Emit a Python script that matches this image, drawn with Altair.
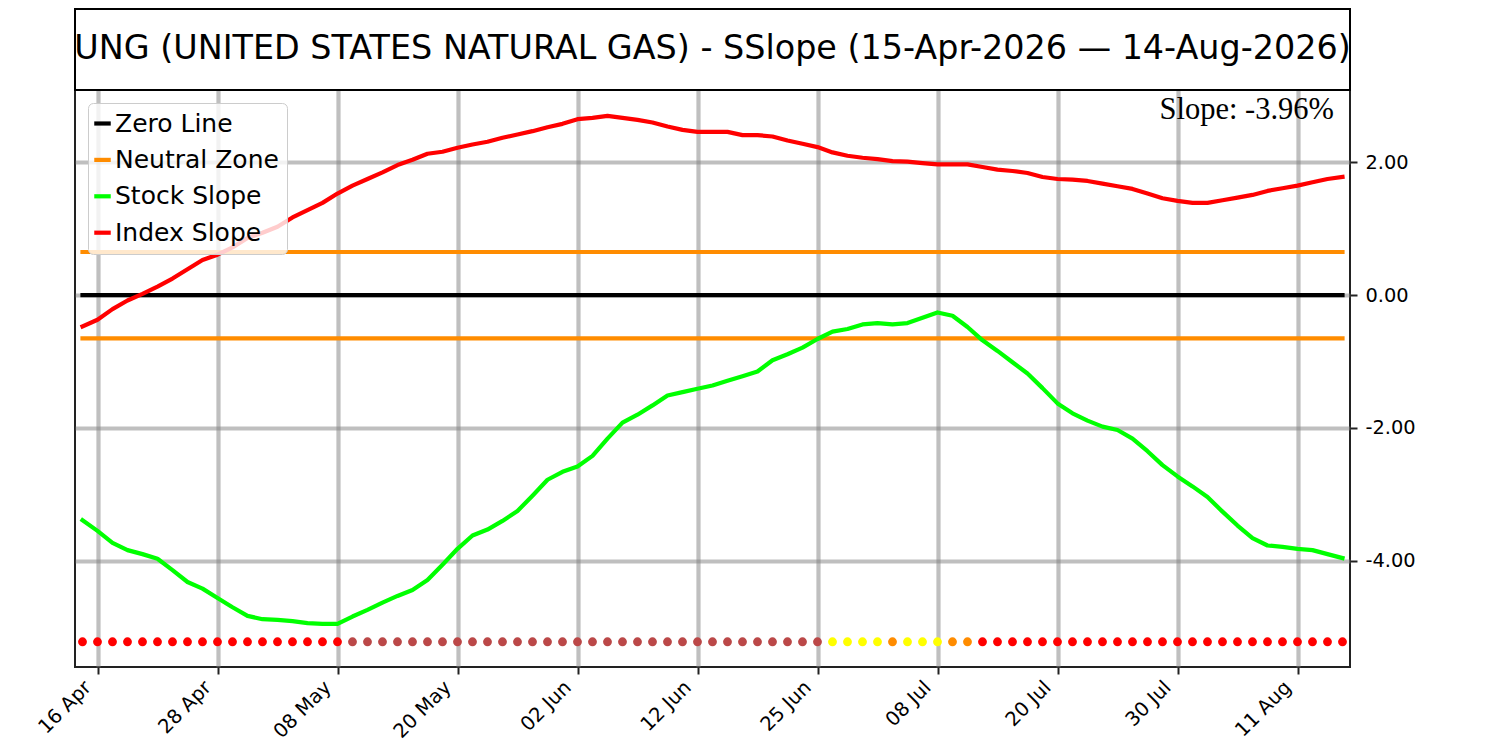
import altair as alt
import pandas as pd

# ---------------- data ----------------
title_text = "UNG (UNITED STATES NATURAL GAS) - SSlope (15-Apr-2026 \u2014 14-Aug-2026)"

tick_labels = ["16 Apr", "28 Apr", "08 May", "20 May", "02 Jun", "12 Jun",
               "25 Jun", "08 Jul", "20 Jul", "30 Jul", "11 Aug"]
tick_index = [1, 9, 17, 25, 33, 41, 49, 57, 65, 73, 81]
y_ticks = [-4, -2, 0, 2]

index_slope = [
    -0.47, -0.37, -0.21, -0.08, 0.02, 0.13, 0.25, 0.39, 0.53, 0.61,
    0.72, 0.86, 0.94, 1.03, 1.17, 1.28, 1.39, 1.53, 1.65, 1.75,
    1.85, 1.96, 2.04, 2.13, 2.16, 2.22, 2.27, 2.31, 2.37, 2.42,
    2.47, 2.53, 2.58, 2.65, 2.67, 2.70, 2.67, 2.64, 2.60, 2.54,
    2.49, 2.46, 2.46, 2.46, 2.41, 2.41, 2.39, 2.33, 2.28, 2.23,
    2.15, 2.10, 2.07, 2.05, 2.02, 2.01, 1.99, 1.97, 1.97, 1.97,
    1.93, 1.89, 1.87, 1.84, 1.78, 1.75, 1.74, 1.72, 1.68, 1.64,
    1.60, 1.53, 1.46, 1.42, 1.39, 1.39, 1.43, 1.47, 1.51, 1.57,
    1.61, 1.65, 1.70, 1.75, 1.78,
]

stock_slope = [
    -3.39, -3.55, -3.73, -3.84, -3.90, -3.97, -4.14, -4.32, -4.42, -4.56,
    -4.70, -4.83, -4.88, -4.89, -4.91, -4.94, -4.95, -4.95, -4.84, -4.74,
    -4.63, -4.53, -4.44, -4.29, -4.06, -3.82, -3.62, -3.53, -3.40, -3.25,
    -3.02, -2.78, -2.66, -2.58, -2.42, -2.16, -1.92, -1.80, -1.66, -1.51,
    -1.46, -1.41, -1.36, -1.29, -1.22, -1.15, -0.98, -0.89, -0.79, -0.66,
    -0.55, -0.51, -0.44, -0.42, -0.44, -0.42, -0.34, -0.26, -0.31, -0.48,
    -0.68, -0.84, -1.01, -1.18, -1.40, -1.63, -1.78, -1.89, -1.98, -2.03,
    -2.16, -2.35, -2.56, -2.73, -2.88, -3.04, -3.26, -3.47, -3.66, -3.77,
    -3.79, -3.82, -3.84, -3.90, -3.96,
]

# state dots along the bottom (runs read left to right)
dot_states = (["red"] * 18 + ["brown"] * 32 + ["yellow"] * 4 + ["orange"] * 1
              + ["yellow"] * 3 + ["orange"] * 2 + ["red"] * 25)
state_colors = {"red": "#ff0000", "brown": "#bb4848", "yellow": "#ffff00", "orange": "#ff8c00"}

neutral_level = 0.65
dot_level = -5.22

series_names = ["Zero Line", "Neutral Zone", "Stock Slope", "Index Slope"]
series_colors = ["#000000", "#ff8c00", "#00ff00", "#ff0000"]

# ---------------- tables ----------------
n = len(index_slope)
idx = list(range(n))

lines_df = pd.DataFrame({
    "i": idx + idx,
    "v": stock_slope + index_slope,
    "series": ["Stock Slope"] * n + ["Index Slope"] * n,
})
rules_df = pd.DataFrame({
    "i": [0, 0, 0],
    "i1": [n - 1, n - 1, n - 1],
    "v": [0.0, neutral_level, -neutral_level],
    "series": ["Zero Line", "Neutral Zone", "Neutral Zone"],
})
dots_df = pd.DataFrame({
    "i": idx,
    "v": [dot_level] * n,
    "c": [state_colors[s] for s in dot_states],
})
text_df = pd.DataFrame({"t": [title_text], "s": [f"Slope: {stock_slope[-1]:.2f}%"]})

# ---------------- scales / axes ----------------
W, H = 1275, 577
xscale = alt.Scale(domain=[-0.5, n - 0.5], nice=False, zero=False)
yscale = alt.Scale(domain=[-5.60, 3.09], nice=False, zero=False)

label_array = "[" + ",".join(f"'{t}'" for t in tick_labels) + "]"
x_axis = alt.Axis(
    values=tick_index,
    labelExpr=f"{label_array}[round((datum.value - 1) / 8)]",
    labelAngle=-45, labelAlign="right", labelBaseline="bottom",
    labelFont="DejaVu Sans", labelFontSize=19.6, labelColor="black",
    labelPadding=17, labelOffset=-3,
    labelOverlap=False, labelFlush=False, labelBound=False,
    tickSize=7, tickWidth=2, tickColor="#222222",
    domain=False, grid=True, gridColor="#808080", gridOpacity=0.5, gridWidth=4.2,
    title=None,
)
y_axis = alt.Axis(
    orient="right", values=y_ticks,
    labelExpr="(datum.value < 0 ? '-' : '') + format(abs(datum.value), '.2f')",
    labelFont="DejaVu Sans", labelFontSize=19.4, labelColor="black",
    labelPadding=8, tickSize=7, tickWidth=2, tickColor="#222222",
    domain=False, grid=True, gridColor="#808080", gridOpacity=0.5, gridWidth=4.2,
    title=None,
)

X = alt.X("i:Q", scale=xscale, axis=x_axis)
Y = alt.Y("v:Q", scale=yscale, axis=y_axis)

color = alt.Color(
    "series:N",
    scale=alt.Scale(domain=series_names, range=series_colors),
    legend=alt.Legend(
        title=None, orient="none", legendX=13, legendY=13,
        symbolType="stroke", symbolSize=272, symbolStrokeWidth=4.2,
        symbolOffset=-6,
        labelFont="DejaVu Sans", labelFontSize=25, labelColor="black",
        labelOffset=0, rowPadding=10.4, padding=8, labelLimit=400,
        fillColor="rgba(255,255,255,0.8)", strokeColor="#cccccc", cornerRadius=5,
    ),
)

# ---------------- layers ----------------
rules = alt.Chart(rules_df).mark_rule(strokeWidth=4.2, strokeCap="square").encode(
    x=X, x2="i1:Q", y=Y, color=color,
)

lines = alt.Chart(lines_df).mark_line(strokeWidth=4.2, strokeCap="square", strokeJoin="round").encode(
    x=X, y=Y, color=color, detail="series:N",
)

dots = alt.Chart(dots_df).mark_circle(size=78, opacity=1).encode(
    x=X, y=Y, color=alt.Color("c:N", scale=None),
)

title_box = alt.Chart(text_df).mark_rect(
    fillOpacity=0, stroke="black", strokeWidth=2
).encode(
    x=alt.value(0), x2=alt.value(W), y=alt.value(-81), y2=alt.value(0),
)

title_label = alt.Chart(text_df).mark_text(
    font="DejaVu Sans", fontSize=33.4, align="center", baseline="alphabetic", color="black"
).encode(
    x=alt.value(W / 2), y=alt.value(-31.5), text="t:N",
)

slope_label = alt.Chart(text_df).mark_text(
    font="Liberation Serif", fontSize=30.5, align="right", baseline="alphabetic", color="black"
).encode(
    x=alt.value(1259), y=alt.value(29), text="s:N",
)

chart = alt.layer(rules, lines, dots, title_box, title_label, slope_label).properties(
    width=W, height=H,
    autosize=alt.AutoSizeParams(type="none"),
    padding={"left": 67, "top": 82, "right": 120, "bottom": 75},
    background="white",
).configure_view(
    stroke="#222222", strokeWidth=2,
)

chart.save("out.html", embed_options={"renderer": "svg", "actions": False})
